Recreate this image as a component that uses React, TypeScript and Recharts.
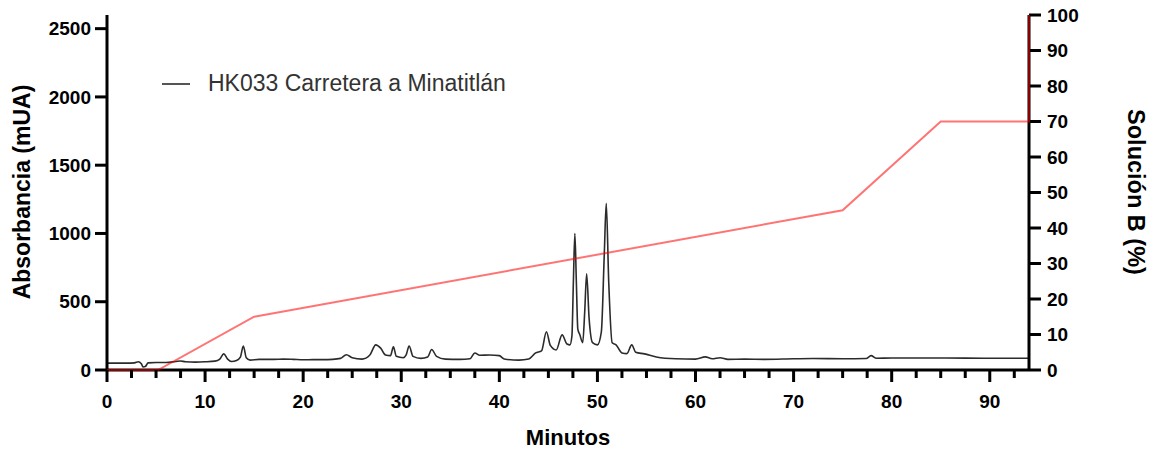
import { LineChart, Line, XAxis, YAxis } from "recharts";

const FONT = "'Liberation Sans', Arial, sans-serif";

// chromatogram trace: [minutes, mAU]
const trace: [number, number][] = [
  [0, 50], [1, 50], [2, 50], [2.8, 52], [3.2, 60], [3.5, 45], [3.7, 22],
  [3.9, 25], [4.2, 52], [5, 55], [6, 55], [7, 62], [7.5, 66], [8, 60],
  [9, 58], [10, 60], [11, 65], [11.5, 80], [11.9, 118], [12.3, 80],
  [12.7, 62], [13.2, 70], [13.6, 95], [13.9, 176], [14.2, 90], [14.6, 72],
  [15.5, 78], [17, 78], [18, 80], [19, 78], [20, 75], [21, 76], [22, 76],
  [23, 78], [23.8, 85], [24.4, 112], [25, 90], [26, 80], [26.8, 110],
  [27.4, 184], [27.9, 160], [28.4, 110], [28.9, 105], [29.2, 170],
  [29.5, 100], [30.2, 90], [30.5, 110], [30.8, 176], [31.2, 100], [32, 85],
  [32.7, 95], [33.1, 150], [33.6, 100], [34.5, 80], [36, 78], [37, 82],
  [37.5, 125], [38, 108], [39, 110], [40, 105], [40.5, 80], [42, 72],
  [43, 80], [43.7, 125], [44.3, 140], [44.8, 280], [45.2, 180], [45.8, 147],
  [46.4, 257], [46.9, 190], [47.2, 184], [47.4, 250], [47.55, 650],
  [47.7, 1000], [47.85, 650], [48.0, 300], [48.2, 260], [48.5, 200],
  [48.7, 420], [48.9, 705], [49.15, 380], [49.5, 200], [50, 184],
  [50.4, 280], [50.7, 850], [50.9, 1220], [51.15, 650], [51.5, 200],
  [51.9, 184], [52.5, 125], [53, 120], [53.5, 184], [53.9, 130], [54.8, 118],
  [56, 95], [58, 82], [60, 80], [61, 96], [61.7, 82], [62.5, 90], [63.3, 78],
  [65, 80], [67, 78], [70, 82], [72, 84], [75, 82], [77.4, 84], [77.9, 105],
  [78.4, 86], [80, 88], [85, 88], [90, 86], [94, 86],
];

// gradient program: [minutes, % solution B]
const gradient: [number, number][] = [
  [0, 0], [5.2, 0], [15, 15], [75, 45], [85, 70], [94, 70], [94, 100],
];

const xTicks = [
  0, 2.5, 5, 7.5, 10, 12.5, 15, 17.5, 20, 22.5, 25, 27.5, 30, 32.5, 35, 37.5,
  40, 42.5, 45, 47.5, 50, 52.5, 55, 57.5, 60, 62.5, 65, 67.5, 70, 72.5, 75,
  77.5, 80, 82.5, 85, 87.5, 90, 92.5,
];
const leftTicks = [0, 500, 1000, 1500, 2000, 2500];
const rightTicks = [0, 10, 20, 30, 40, 50, 60, 70, 80, 90, 100];

const traceData = trace.map(([t, v]) => ({ t, v }));
const gradientData = gradient.map(([t, b]) => ({ t, b }));

const tickStyle = { fill: "#000", fontSize: 19, fontWeight: 700, fontFamily: FONT };

function XTick(props: any) {
  const { x, y, payload } = props;
  const major = payload.value % 10 === 0;
  return (
    <g>
      <line x1={x} x2={x} y1={y} y2={y + (major ? 12 : 8)} stroke="#000" strokeWidth={3} />
      {major && (
        <text x={x} y={y + 38} textAnchor="middle" {...tickStyle}>
          {payload.value}
        </text>
      )}
    </g>
  );
}

function Title({ x, y, angle, size, text }: { x: number; y: number; angle: number; size: number; text: string }) {
  return (
    <text
      x={x}
      y={y}
      transform={`rotate(${angle} ${x} ${y})`}
      textAnchor="middle"
      dominantBaseline="central"
      fill="#000"
      fontSize={size}
      fontWeight={700}
      fontFamily={FONT}
    >
      {text}
    </text>
  );
}

export default function App() {
  return (
    <div style={{ position: "absolute", left: 0, top: 0, width: 1162, height: 452, background: "#fff" }}>
      <LineChart
        width={1162}
        height={452}
        margin={{ top: 15, right: 53, bottom: 42, left: 27 }}
      >
        <XAxis
          type="number"
          dataKey="t"
          domain={[0, 94]}
          ticks={xTicks}
          interval={0}
          tick={<XTick />}
          tickLine={false}
          tickSize={0}
          tickMargin={0}
          axisLine={{ stroke: "#000", strokeWidth: 3 }}
          height={40}
          label={{ content: () => <Title x={568} y={437} angle={0} size={22} text="Minutos" /> }}
        />
        <YAxis
          yAxisId="left"
          domain={[0, 2600]}
          ticks={leftTicks}
          interval={0}
          width={80}
          tick={tickStyle}
          tickSize={12}
          tickMargin={4}
          tickLine={{ stroke: "#000", strokeWidth: 3 }}
          axisLine={{ stroke: "#000", strokeWidth: 3 }}
          label={{ content: () => <Title x={22} y={192} angle={-90} size={23} text="Absorbancia (mUA)" /> }}
        />
        <YAxis
          yAxisId="right"
          orientation="right"
          domain={[0, 100]}
          ticks={rightTicks}
          interval={0}
          width={80}
          tick={{ ...tickStyle, textAnchor: "start" }}
          tickSize={12}
          tickMargin={6}
          tickLine={{ stroke: "#000", strokeWidth: 3 }}
          axisLine={{ stroke: "#000", strokeWidth: 3 }}
          label={{ content: () => <Title x={1136} y={192} angle={90} size={23.5} text="Solución B (%)" /> }}
        />
        <Line
          yAxisId="left"
          data={traceData}
          dataKey="v"
          type="monotone"
          stroke="#2b2b2b"
          strokeWidth={1.6}
          dot={false}
          isAnimationActive={false}
        />
        <Line
          yAxisId="right"
          data={gradientData}
          dataKey="b"
          type="linear"
          stroke="#ff0000"
          strokeOpacity={0.55}
          strokeWidth={2}
          dot={false}
          isAnimationActive={false}
          zIndex={1000}
        />
      </LineChart>
      <div
        style={{
          position: "absolute",
          left: 162,
          top: 70,
          display: "flex",
          alignItems: "center",
          fontFamily: FONT,
        }}
      >
        <div style={{ width: 28, height: 2, background: "#555", marginRight: 18 }} />
        <span style={{ fontSize: 23, color: "#333" }}>HK033 Carretera a Minatitlán</span>
      </div>
    </div>
  );
}
